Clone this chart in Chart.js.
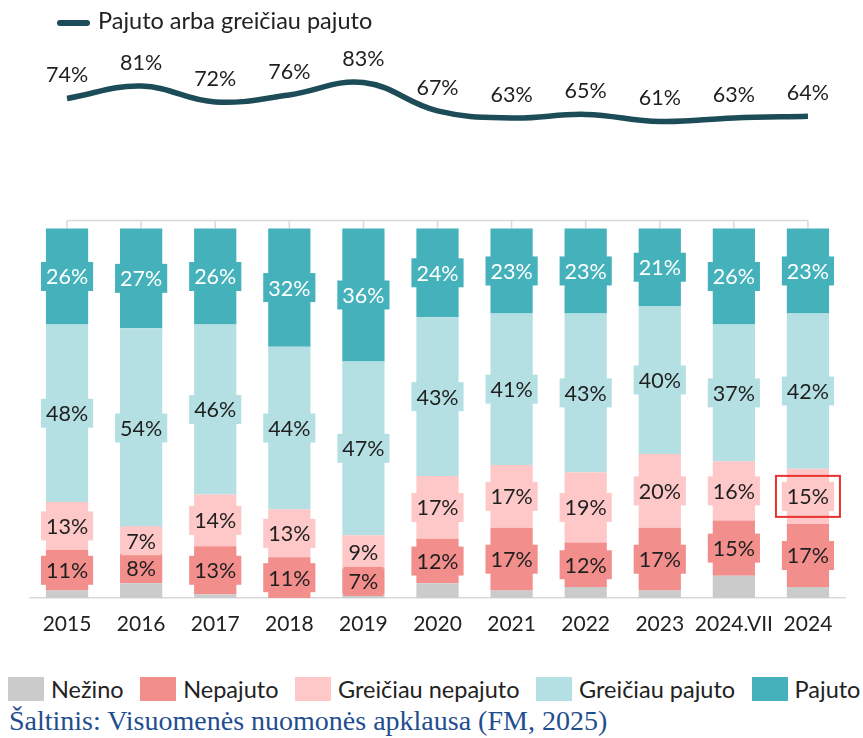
<!DOCTYPE html>
<html>
<head>
<meta charset="utf-8">
<script src="https://cdn.jsdelivr.net/npm/chart.js@4"></script>
<style>
  body { margin: 0; background: #fff; font-family: Lato, sans-serif; }
  #wrap { position: relative; width: 863px; height: 738px; overflow: hidden; }
  #box { position: absolute; left: 0; top: 0; width: 863px; height: 661px; }
  #topLegend { position: absolute; left: 57px; top: 6px; font-size: 23.5px; color: #222; white-space: nowrap; }
  #topLegend .sw { display: inline-block; width: 33px; height: 6px; border-radius: 3px; background: #1c4c57; vertical-align: middle; margin-right: 8px; }
  #legend { position: absolute; left: 8px; top: 675px; display: flex; gap: 16.5px; font-size: 23.5px; color: #222; white-space: nowrap; }
  #legend .item { display: flex; align-items: center; gap: 7px; }
  #legend .sq { width: 36px; height: 24px; }
  #source { position: absolute; left: 9px; top: 705px; font-family: "Liberation Serif", serif; font-size: 28px; color: #1f4e8f; white-space: nowrap; }
</style>
</head>
<body>
<div id="wrap">
  <div id="box"><canvas id="chart"></canvas></div>
  <div id="topLegend"><span class="sw"></span>Pajuto arba greičiau pajuto</div>
  <div id="legend"></div>
  <div id="source">Šaltinis: Visuomenės nuomonės apklausa (FM, 2025)</div>
</div>
<script>
const years = ["2015", "2016", "2017", "2018", "2019", "2020", "2021", "2022", "2023", "2024.VII", "2024"];

const nezino = [2, 4, 1, 0, 1, 4, 2, 3, 2, 6, 3];
const nepajuto = [11, 8, 13, 11, 7, 12, 17, 12, 17, 15, 17];
const grNepajuto = [13, 7, 14, 13, 9, 17, 17, 19, 20, 16, 15];
const grPajuto = [48, 54, 46, 44, 47, 43, 41, 43, 40, 37, 42];
const pajuto = [26, 27, 26, 32, 36, 24, 23, 23, 21, 26, 23];
const pajutoArba = [74, 81, 72, 76, 83, 67, 63, 65, 61, 63, 64];

// the label framed in red in the source
const highlightSeries = "Greičiau nepajuto";
const highlightYear = "2024";

const textColor = "#1f1f1f";

// boxed % labels on the bars, plain labels above the line
const labelBoxes = {
  id: "labelBoxes",
  afterDatasetsDraw(chart) {
    const ctx = chart.ctx;
    ctx.save();
    ctx.font = "21.5px Lato";
    ctx.textAlign = "center";
    ctx.textBaseline = "middle";
    chart.data.datasets.forEach((ds, i) => {
      if (!ds.showLabels) return;
      const meta = chart.getDatasetMeta(i);
      meta.data.forEach((el, j) => {
        const text = ds.data[j] + "%";
        if (ds.type === "line") {
          ctx.fillStyle = textColor;
          ctx.fillText(text, el.x, el.y - 23);
          return;
        }
        const cy = (el.y + el.base) / 2;
        const w = ctx.measureText(text).width + 10;
        const h = 29;
        ctx.fillStyle = ds.backgroundColor;
        ctx.fillRect(el.x - w / 2, cy - h / 2, w, h);
        ctx.fillStyle = ds.labelColor;
        ctx.fillText(text, el.x, cy + 1);
        if (ds.label === highlightSeries && years[j] === highlightYear) {
          ctx.strokeStyle = "#e8322e";
          ctx.lineWidth = 2;
          ctx.strokeRect(el.x - 32, cy - 20.5, 64, 41);
        }
      });
    });
    ctx.restore();
  }
};

// thin bracket line above the bars with a tick at each category
const topBracket = {
  id: "topBracket",
  beforeDatasetsDraw(chart) {
    const { ctx, scales } = chart;
    const y0 = scales.y.getPixelForValue(100) - 8;
    const x0 = scales.x.getPixelForValue(0);
    const x1 = scales.x.getPixelForValue(years.length - 1);
    ctx.save();
    ctx.strokeStyle = "#d9d9d9";
    ctx.lineWidth = 1.5;
    ctx.beginPath();
    ctx.moveTo(x0, y0);
    ctx.lineTo(x1, y0);
    years.forEach((_, i) => {
      const x = scales.x.getPixelForValue(i);
      ctx.moveTo(x, y0);
      ctx.lineTo(x, y0 + 8);
    });
    ctx.stroke();
    ctx.restore();
  }
};

const makeBar = (label, data, color, labelColor, showLabels) => ({
  type: "bar",
  label: label,
  data: data,
  backgroundColor: color,
  labelColor: labelColor,
  showLabels: showLabels,
  yAxisID: "y",
  stack: "s",
  barPercentage: 0.57,
  categoryPercentage: 1
});

// hidden side axes only reserve the margins left/right of the plot
const sideAxis = (pos, width, min, max, stacked) => ({
  position: pos,
  stacked: stacked,
  min: min,
  max: max,
  grid: { display: false, drawTicks: false },
  border: { display: false },
  ticks: { display: false },
  afterFit: (scale) => { scale.width = width; }
});

const chart = new Chart(document.getElementById("chart"), {
  data: {
    labels: years,
    datasets: [
      makeBar("Nežino", nezino, "#cbcbcb", textColor, false),
      makeBar("Nepajuto", nepajuto, "#f28e8c", textColor, true),
      makeBar("Greičiau nepajuto", grNepajuto, "#fec8c8", textColor, true),
      makeBar("Greičiau pajuto", grPajuto, "#b5e0e3", textColor, true),
      makeBar("Pajuto", pajuto, "#45b2bb", "#ffffff", true),
      {
        type: "line",
        label: "Pajuto arba greičiau pajuto",
        data: pajutoArba,
        yAxisID: "y2",
        borderColor: "#1c4c57",
        borderWidth: 5.5,
        tension: 0.4,
        pointRadius: 0,
        showLabels: true
      }
    ]
  },
  options: {
    responsive: true,
    maintainAspectRatio: false,
    animation: false,
    layout: { padding: { top: 40, left: 0, right: 0, bottom: 0 } },
    plugins: {
      tooltip: { enabled: false },
      legend: { display: false }
    },
    scales: {
      x: {
        stacked: true,
        grid: { display: false },
        border: { display: true, color: "#d9d9d9", width: 1.5 },
        ticks: { color: "#222", font: { family: "Lato", size: 21 }, padding: 6, maxRotation: 0, autoSkip: false },
        afterFit: (scale) => { scale.height = 63; }
      },
      y: sideAxis("left", 30, 0, 151, true),
      y2: sideAxis("right", 18, -208, 107, false)
    }
  },
  plugins: [labelBoxes, topBracket]
});

// bottom legend, built from the bar datasets
const legendEl = document.getElementById("legend");
chart.data.datasets.filter((ds) => ds.type === "bar").forEach((ds) => {
  const item = document.createElement("div");
  item.className = "item";
  const sq = document.createElement("span");
  sq.className = "sq";
  sq.style.background = ds.backgroundColor;
  const txt = document.createElement("span");
  txt.textContent = ds.label;
  item.appendChild(sq);
  item.appendChild(txt);
  legendEl.appendChild(item);
});
</script>
</body>
</html>
